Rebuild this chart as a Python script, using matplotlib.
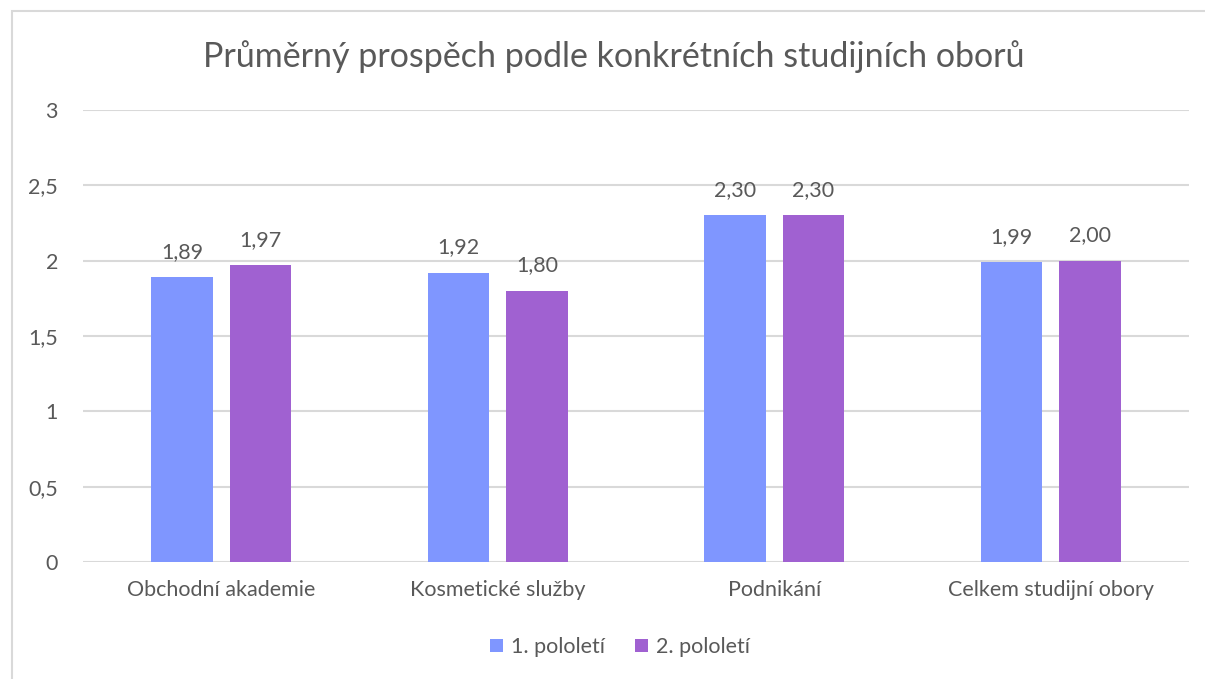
import numpy as np
import matplotlib.pyplot as plt
from matplotlib.patches import Rectangle

categories = ['Obchodní akademie', 'Kosmetické služby', 'Podnikání', 'Celkem studijní obory']
series_names = ['1. pololetí', '2. pololetí']
values_1 = [1.89, 1.92, 2.30, 1.99]
values_2 = [1.97, 1.80, 2.30, 2.00]
y_ticks = [0, 0.5, 1, 1.5, 2, 2.5, 3]
y_labels = ['0', '0,5', '1', '1,5', '2', '2,5', '3']

BLUE = '#7F96FF'
PURPLE = '#A061D1'
TEXT = '#595959'
GRID = '#D9D9D9'
FS = 15.5

plt.rcParams['font.family'] = ['Lato', 'DejaVu Sans']

fig = plt.figure(figsize=(12.05, 6.79), dpi=100)
# chart border (cut off at right and bottom like the screenshot)
fig.patches.append(Rectangle((12 / 1205, -0.05), 1.2, 1 - 11 / 679 + 0.05,
                             transform=fig.transFigure, fill=False,
                             edgecolor='#D9D9D9', linewidth=1.5))

ax = fig.add_axes([83 / 1205, 1 - 562 / 679, (1189 - 83) / 1205, (562 - 110) / 679])

x = np.arange(len(categories))
w = 0.222
gap = 0.061
off = (w + gap) / 2
b1 = ax.bar(x - off, values_1, w, color=BLUE, label=series_names[0], zorder=3)
b2 = ax.bar(x + off, values_2, w, color=PURPLE, label=series_names[1], zorder=3)

for bars, vals in ((b1, values_1), (b2, values_2)):
    for bar, v in zip(bars, vals):
        ax.annotate(f'{v:.2f}'.replace('.', ','),
                    (bar.get_x() + bar.get_width() / 2, v),
                    xytext=(0, 11), textcoords='offset points',
                    ha='center', va='bottom', fontsize=FS, color=TEXT)

ax.set_xlim(-0.5, len(categories) - 0.5)
ax.set_ylim(0, 3)
ax.set_yticks(y_ticks)
ax.set_yticklabels(y_labels)
ax.set_xticks(x)
ax.set_xticklabels(categories)
ax.tick_params(axis='both', length=0, labelsize=FS, labelcolor=TEXT)
ax.tick_params(axis='y', pad=18)
ax.tick_params(axis='x', pad=13)
ax.grid(axis='y', color=GRID, linewidth=1.5, zorder=0)
for s in ax.spines.values():
    s.set_visible(False)

fig.text(614 / 1205, 1 - 57 / 679, 'Průměrný prospěch podle konkrétních studijních oborů',
         ha='center', va='center', fontsize=24.5, color=TEXT)

fig.legend(handles=[b1, b2], labels=series_names, loc='center',
           bbox_to_anchor=(620 / 1205, 1 - 647 / 679), ncol=2, frameon=False,
           fontsize=FS, labelcolor=TEXT, handlelength=0.6, handleheight=0.6,
           handletextpad=0.35, columnspacing=1.4)

fig.savefig('out.png', dpi=100)
